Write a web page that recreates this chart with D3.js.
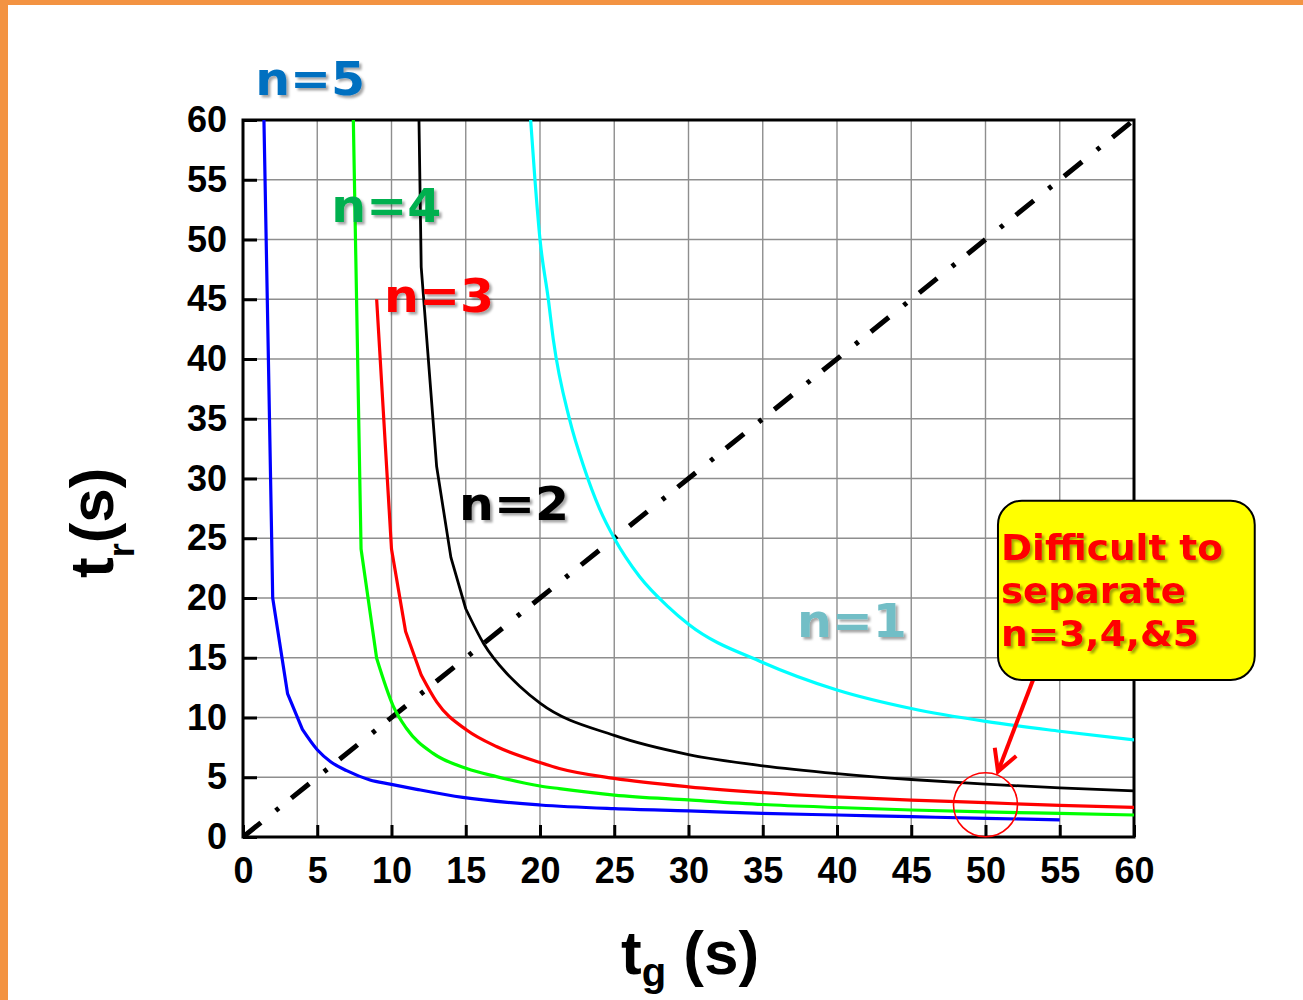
<!DOCTYPE html>
<html>
<head>
<meta charset="utf-8">
<script src="https://cdn.jsdelivr.net/npm/d3@7"></script>
<style>
  html, body { margin: 0; padding: 0; background: #ffffff; }
  svg { display: block; }
</style>
</head>
<body>
<svg id="chart" width="1303" height="1000"></svg>
<script>
// ---------------- data ----------------
const xTicks = [0, 5, 10, 15, 20, 25, 30, 35, 40, 45, 50, 55, 60];
const yTicks = [0, 5, 10, 15, 20, 25, 30, 35, 40, 45, 50, 55, 60];

// [t_g, t_r] pairs
const n1Points = [[19.37,60],[19.66,55],[20.0,50],[20.56,45],[20.9,41.6],[22.0,34.9],[23.0,30.8],[24.0,27.5],[25.0,25.0],[26.7,21.8],[28.6,19.3],[30,17.8],[35,14.6],[40,12.3],[45,10.75],[50,9.67],[55,8.85],[60,8.12]];
const n2Points = [[11.85,60],[12.0,47.7],[13.04,31.0],[14.0,23.4],[15.0,19.1],[16.2,16.2],[17.75,13.7],[18.65,12.6],[20,11.2],[25,8.5],[30,6.9],[35,5.96],[40,5.31],[45,4.81],[50,4.42],[55,4.11],[60,3.86]];
const n3Points = [[9.0,45],[10.0,24.1],[10.95,17.2],[12.0,13.55],[13.04,11.3],[15.06,8.95],[17.1,7.55],[20,6.23],[21.3,5.73],[25,4.9],[30,4.2],[35,3.72],[40,3.36],[45,3.09],[50,2.87],[55,2.64],[60,2.47]];
const n4Points = [[7.43,60],[7.72,40],[7.95,24.1],[9.0,14.95],[10.1,11.0],[11.0,9.1],[12.8,7.0],[15.06,5.73],[17.07,5.05],[20,4.27],[21.3,4.05],[25,3.51],[30,3.10],[35,2.72],[40,2.47],[45,2.26],[50,2.10],[55,1.97],[60,1.84]];
const n5Points = [[1.41,60],[1.71,40],[1.93,25],[2.0,20],[3.0,12],[4.0,9],[5.0,7.3],[5.9,6.3],[6.98,5.55],[8.55,4.77],[9.9,4.43],[11.7,3.99],[14.8,3.31],[20,2.68],[25,2.37],[30,2.18],[35,1.98],[40,1.84],[45,1.70],[50,1.56],[55,1.44]];
const diagonalPoints = [[0,0],[60,60]];

const seriesNames = ["n=1", "n=2", "n=3", "n=4", "n=5"];
const seriesData  = [n1Points, n2Points, n3Points, n4Points, n5Points];
const seriesColors = ["#00FFFF", "#000000", "#FF0000", "#00FF00", "#0000FF"];
const labelColors  = ["#72BEC6", "#000000", "#FF0000", "#00B050", "#0070C0"];
// number of leading points joined with straight segments (visible corners)
const cornerCounts = [0, 5, 4, 4, 6];
// label anchor positions (data units: t_g, t_r)
const labelPos = [[37.3,16.74],[14.55,26.53],[9.5,43.93],[5.95,51.46],[0.82,62.09]];

const noteLines = ["Difficult to", "separate", "n=3,4,&5"];
const noteLineWidths = [222, 185, 198];
const noteCircle = [50, 2.7];      // centre of the red ring
const noteBox = [50.84, 28.14, 68.13, 13.14]; // x0,y0,x1,y1 in data units
const noteArrow = [[53.2, 13.14],[50.84, 5.48]];

// ---------------- layout ----------------
const svg = d3.select("#chart");
const W = 1303, H = 1000;
const x = d3.scaleLinear().domain([0, 60]).range([243, 1134]);
const y = d3.scaleLinear().domain([0, 60]).range([837, 120]);

const defs = svg.append("defs");
const f = defs.append("filter").attr("id","shadow").attr("x","-10%").attr("y","-10%").attr("width","130%").attr("height","140%");
f.append("feDropShadow").attr("dx",2.5).attr("dy",2.5).attr("stdDeviation",1.2)
 .attr("flood-color","#000").attr("flood-opacity",0.35);
defs.append("clipPath").attr("id","plotclip").append("rect")
  .attr("x", x(0)).attr("y", y(60)).attr("width", x(60)-x(0)).attr("height", y(0)-y(60));

// background + orange frame
svg.append("rect").attr("width", W).attr("height", H).attr("fill", "#fff");
svg.append("rect").attr("x",0).attr("y",0).attr("width",8).attr("height",H).attr("fill","#F39342");
svg.append("rect").attr("x",0).attr("y",0).attr("width",W).attr("height",5).attr("fill","#F39342");

// grid
const grid = svg.append("g");
grid.selectAll("line.gx").data(xTicks).join("line")
  .attr("x1", d => x(d)).attr("x2", d => x(d)).attr("y1", y(0)).attr("y2", y(60))
  .attr("stroke", "#8e8e8e").attr("stroke-width", 1.4);
grid.selectAll("line.gy").data(yTicks).join("line")
  .attr("y1", d => y(d)).attr("y2", d => y(d)).attr("x1", x(0)).attr("x2", x(60))
  .attr("stroke", "#8e8e8e").attr("stroke-width", 1.4);

// axes (inside ticks)
const axisFont = "'Liberation Sans', Arial, sans-serif";
const yAxis = svg.append("g").attr("transform", `translate(${x(0)},0)`)
  .call(d3.axisLeft(y).tickValues(yTicks).tickSize(-14).tickPadding(16).tickFormat(d3.format("d")));
const xAxis = svg.append("g").attr("transform", `translate(0,${y(0)})`)
  .call(d3.axisBottom(x).tickValues(xTicks).tickSize(-12).tickPadding(20).tickFormat(d3.format("d")));
[yAxis, xAxis].forEach(a => {
  a.select(".domain").remove();
  a.selectAll(".tick line").attr("stroke", "#000").attr("stroke-width", 3);
  a.selectAll(".tick text").attr("fill", "#000").attr("font-family", axisFont)
    .attr("font-weight", "bold").attr("font-size", 36);
});

// plot frame
svg.append("rect").attr("x", x(0)).attr("y", y(60)).attr("width", x(60)-x(0)).attr("height", y(0)-y(60))
  .attr("fill", "none").attr("stroke", "#000").attr("stroke-width", 3);

// curves
const line = d3.line().x(d => x(d[0])).y(d => y(d[1]));
const smooth = d3.line().x(d => x(d[0])).y(d => y(d[1])).curve(d3.curveMonotoneX);
const plot = svg.append("g").attr("clip-path", "url(#plotclip)");
plot.append("path").datum(diagonalPoints).attr("d", line)
  .attr("fill", "none").attr("stroke", "#000").attr("stroke-width", 5)
  .attr("stroke-dasharray", "23,19,4,16");
seriesData.forEach((pts, i) => {
  const k = cornerCounts[i];
  const head = k > 0 ? line(pts.slice(0, k)) : "";
  const tail = smooth(pts.slice(Math.max(k - 1, 0)));
  const d = k > 0 ? head + tail.replace(/^M[^A-Za-z]*/, m => "L" + m.slice(1)) : tail;
  plot.append("path").attr("d", d)
    .attr("fill", "none").attr("stroke", seriesColors[i])
    .attr("stroke-width", i === 1 ? 2.8 : 3.2).attr("stroke-linejoin", "round");
});

// series labels
const labelFont = "'DejaVu Sans', Verdana, sans-serif";
seriesNames.forEach((name, i) => {
  svg.append("text").attr("x", x(labelPos[i][0])).attr("y", y(labelPos[i][1]))
    .attr("font-family", labelFont).attr("font-weight", "bold").attr("font-size", 47)
    .attr("textLength", 110).attr("lengthAdjust", "spacingAndGlyphs")
    .attr("fill", labelColors[i]).attr("filter", "url(#shadow)").text(name);
});

// annotation: ring, arrow, box
svg.append("circle").attr("cx", x(noteCircle[0])).attr("cy", y(noteCircle[1])).attr("r", 32)
  .attr("fill", "none").attr("stroke", "#FF0000").attr("stroke-width", 1.6);

const a0 = [x(noteArrow[0][0]), y(noteArrow[0][1])], a1 = [x(noteArrow[1][0]), y(noteArrow[1][1])];
svg.append("line").attr("x1", a0[0]).attr("y1", a0[1]).attr("x2", a1[0]).attr("y2", a1[1])
  .attr("stroke", "#FF0000").attr("stroke-width", 4);
const ang = Math.atan2(a1[1]-a0[1], a1[0]-a0[0]);
const headLen = 24, spread = 0.5;
const headPts = [
  [a1[0] - headLen*Math.cos(ang - spread), a1[1] - headLen*Math.sin(ang - spread)],
  a1,
  [a1[0] - headLen*Math.cos(ang + spread), a1[1] - headLen*Math.sin(ang + spread)]
];
svg.append("path").attr("d", d3.line()(headPts)).attr("fill", "none")
  .attr("stroke", "#FF0000").attr("stroke-width", 4).attr("stroke-linejoin", "miter");

svg.append("rect").attr("x", x(noteBox[0])).attr("y", y(noteBox[1]))
  .attr("width", x(noteBox[2]) - x(noteBox[0])).attr("height", y(noteBox[3]) - y(noteBox[1]))
  .attr("rx", 24).attr("ry", 24).attr("fill", "#FFFF00").attr("stroke", "#000").attr("stroke-width", 2);
noteLines.forEach((t, i) => {
  svg.append("text").attr("font-family", labelFont).attr("font-weight", "bold")
    .attr("font-size", 35).attr("fill", "#FF0000").attr("filter", "url(#shadow)")
    .attr("x", x(noteBox[0]) + 3).attr("y", y(noteBox[1]) + 59 + i*43.2)
    .attr("textLength", noteLineWidths[i]).attr("lengthAdjust", "spacingAndGlyphs")
    .text(t);
});

// axis titles
const tx = svg.append("text").attr("x", 621).attr("y", 974)
  .attr("font-family", axisFont).attr("font-weight", "bold").attr("font-size", 62).attr("fill", "#000");
tx.append("tspan").text("t");
tx.append("tspan").attr("font-size", 40).attr("dy", 12).text("g");
tx.append("tspan").attr("dy", -12).text(" (s)");

const ty = svg.append("text").attr("transform", "translate(113,578) rotate(-90)")
  .attr("font-family", axisFont).attr("font-weight", "bold").attr("font-size", 62).attr("fill", "#000");
ty.append("tspan").text("t");
ty.append("tspan").attr("font-size", 36).attr("dy", 21).text("r");
ty.append("tspan").attr("dy", -21).text("(s)");
</script>
</body>
</html>
